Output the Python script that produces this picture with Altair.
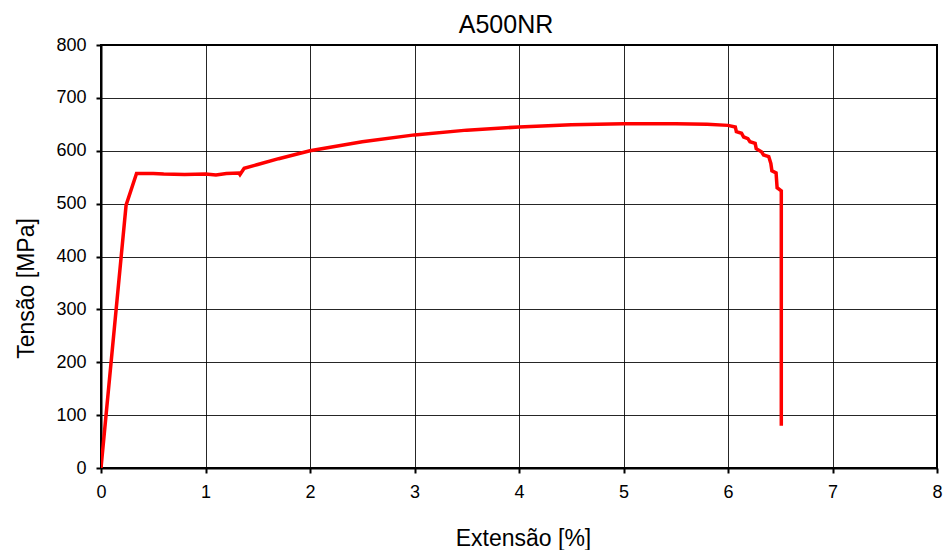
import altair as alt
import pandas as pd

strain = [0, 0.24, 0.34, 0.5, 0.6, 0.8, 1.0, 1.1, 1.2, 1.32, 1.33, 1.37, 1.5, 1.7, 2.0, 2.5, 3.0,
          3.5, 4.0, 4.5, 5.0, 5.5, 5.8, 6.0, 6.07, 6.08, 6.13, 6.15, 6.19, 6.21, 6.26, 6.27,
          6.32, 6.34, 6.39, 6.41, 6.42, 6.46, 6.47, 6.51, 6.51]
stress = [0, 497, 557, 557, 556, 555, 556, 554, 557, 558, 555, 567, 574, 585, 600, 617, 630,
          639, 645, 649, 651, 651, 650, 648, 645, 636, 633, 626, 623, 617, 614, 604,
          598, 592, 589, 576, 562, 558, 530, 524, 80]

df = pd.DataFrame({"x": strain, "y": stress, "i": list(range(len(strain)))})

FONT = "Liberation Sans"

chart = alt.Chart(df).mark_line(color="#ff0000", strokeWidth=3.5, clip=True).encode(
    x=alt.X("x:Q", scale=alt.Scale(domain=[0, 8], nice=False),
            axis=alt.Axis(title="Extensão [%]", values=list(range(0, 9)), format="d",
                          labelPadding=10, titleX=422, titleY=77, labelFlush=False,
                          titleBaseline="alphabetic")),
    y=alt.Y("y:Q", scale=alt.Scale(domain=[0, 800], nice=False),
            axis=alt.Axis(title="Tensão [MPa]", values=list(range(0, 801, 100)), format="d",
                          labelPadding=10, titleX=-68, titleY=243, labelFlush=False,
                          titleBaseline="alphabetic")),
    order="i:Q",
).properties(
    width=836, height=423,
    title=alt.TitleParams("A500NR", fontSize=25, font=FONT, fontWeight="normal",
                          color="black", offset=7, frame="group", dx=-13, dy=9),
    autosize=alt.AutoSizeParams(type="none"),
    padding={"left": 101, "top": 45, "right": 8, "bottom": 82},
).configure_view(
    stroke="black", strokeWidth=2
).configure_axis(
    labelFont=FONT, titleFont=FONT, labelFontSize=18,
    titleFontSize=23, titleFontWeight="normal", labelColor="black", titleColor="black",
    domainColor="black", domainWidth=2, tickColor="black", tickWidth=2, tickSize=5,
    gridColor="black", gridWidth=1, gridOpacity=0.85,
)

chart.save("out.html", embed_options={"renderer": "svg", "actions": False})
